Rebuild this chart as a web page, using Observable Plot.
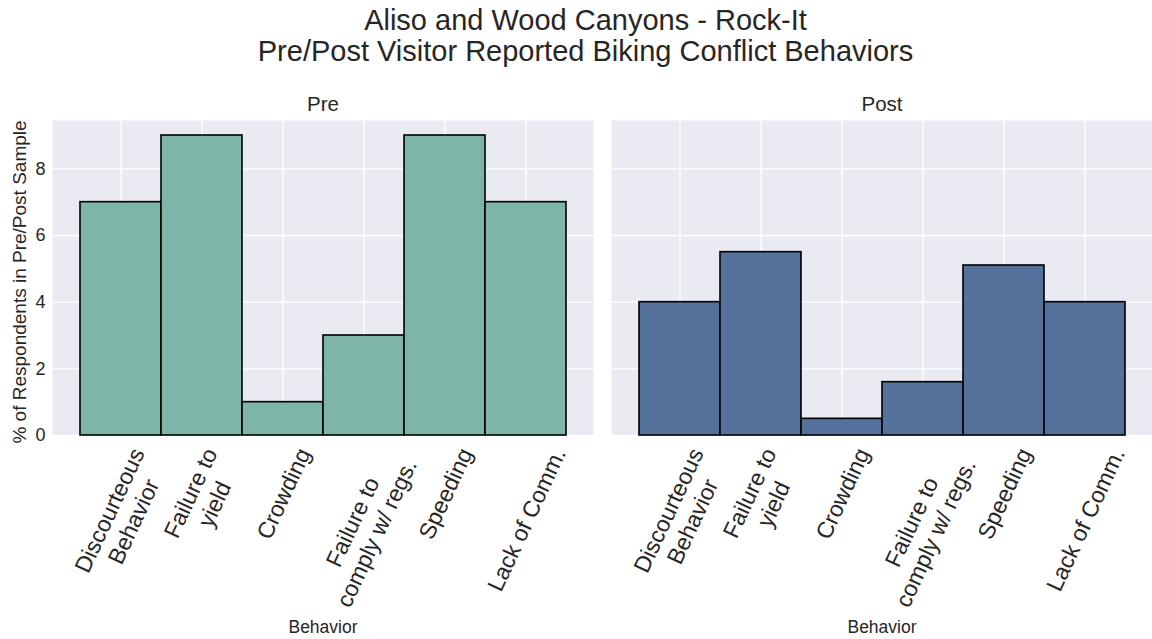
<!DOCTYPE html>
<html><head><meta charset="utf-8">
<script src="https://cdn.jsdelivr.net/npm/d3@7"></script>
<script src="https://cdn.jsdelivr.net/npm/@observablehq/plot@0.6"></script>
<style>
body{margin:0;background:#fff;font-family:"Liberation Sans",Arial,sans-serif;}
#wrap{position:relative;width:1152px;height:639px;overflow:hidden;}
#title{position:absolute;left:0;top:5px;width:1171px;text-align:center;font-size:29px;color:#262626;z-index:2;}
#title div{height:31px;line-height:31px;white-space:nowrap;}
#chart{position:absolute;left:0;top:0;}
</style></head><body>
<div id="wrap"><div id="title"><div>Aliso and Wood Canyons - Rock-It</div><div>Pre/Post Visitor Reported Biking Conflict Behaviors</div></div><div id="chart"></div></div>
<script>
const phases = ["Pre", "Post"];
const behaviors = ["Discourteous\nBehavior", "Failure to\nyield", "Crowding", "Failure to\ncomply w/ regs.", "Speeding", "Lack of Comm."];
const preValues = [7, 9, 1, 3, 9, 7];
const postValues = [4, 5.5, 0.5, 1.6, 5.1, 4];
const yTicks = [0, 2, 4, 6, 8];
const phaseColors = ["#7db5a8", "#54729b"];
const yLabel = "% of Respondents in Pre/Post Sample";
const xLabel = "Behavior";

const rows = [];
behaviors.forEach((b, i) => {
  rows.push({phase: "Pre", behavior: b, value: preValues[i]});
  rows.push({phase: "Post", behavior: b, value: postValues[i]});
});

const FS = 23, LH = 1.15, ANG = 65 * Math.PI / 180, PAD = 9;
const ctx = document.createElement("canvas").getContext("2d");
ctx.font = FS + "px 'Liberation Sans', Arial, sans-serif";
function labelDy(label) {
  const lines = label.split("\n");
  const W = Math.max(...lines.map(l => ctx.measureText(l).width));
  const H = (lines.length - 1) * LH * FS + FS;
  const h = W * Math.sin(ANG) + H * Math.cos(ANG);
  return PAD + h / 2;
}

const tickLabelMarks = behaviors.map(b => Plot.text(rows.filter(d => d.behavior === b), {
  fx: "phase", x: "behavior", text: "behavior", frameAnchor: "bottom",
  rotate: -65, textAnchor: "middle", lineAnchor: "middle", lineHeight: LH,
  fontSize: FS, dy: labelDy(b), fill: "#262626"
}));

const chart = Plot.plot({
  width: 1152, height: 639,
  marginLeft: 51, marginRight: 0, marginTop: 120, marginBottom: 204,
  style: {fontFamily: "'Liberation Sans', Arial, sans-serif", color: "#262626", background: "transparent"},
  fx: {domain: phases, paddingInner: 0.033, paddingOuter: 0, label: null},
  x: {domain: behaviors, type: "band", paddingInner: 0, paddingOuter: 0.3, axis: null},
  y: {domain: [0, 9.45], axis: null},
  color: {domain: phases, range: phaseColors},
  marks: [
    Plot.frame({fill: "#eaeaf2", stroke: null}),
    Plot.gridX({stroke: "white", strokeOpacity: 1, strokeWidth: 1.3}),
    Plot.gridY(yTicks, {stroke: "white", strokeOpacity: 1, strokeWidth: 1.3}),
    Plot.barY(rows, {fx: "phase", x: "behavior", y: "value", fill: "phase", stroke: "black", strokeWidth: 1.6}),
    Plot.axisY(yTicks, {anchor: "left", tickSize: 0, tickPadding: 7, fontSize: 18, label: null}),
    Plot.axisFx({anchor: "top", tickSize: 0, tickPadding: 10, fontSize: 20.5, label: null}),
    ...tickLabelMarks,
    Plot.text(phases, {fx: d => d, text: () => xLabel, frameAnchor: "bottom", dy: 197, fontSize: 17.5, fill: "#262626"}),
    Plot.text(["Pre"], {fx: d => d, text: () => yLabel, frameAnchor: "left", textAnchor: "middle", rotate: -90, dx: -33, dy: 4, fontSize: 19, fill: "#262626"})
  ]
});
document.getElementById("chart").appendChild(chart);
</script>
</body></html>
